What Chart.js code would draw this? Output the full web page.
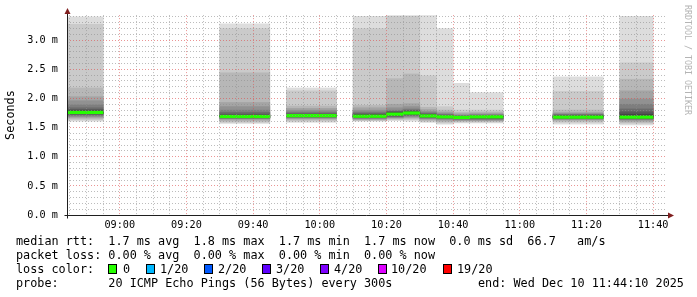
<!DOCTYPE html>
<html>
<head>
<meta charset="utf-8">
<script src="https://cdn.jsdelivr.net/npm/chart.js@4.4.1/dist/chart.umd.min.js"></script>
<style>
  html, body { margin: 0; padding: 0; background: #fff; }
  #wrap { position: relative; width: 697px; height: 297px; overflow: hidden; background: #fff; }
  #chart { position: absolute; left: 0; top: 0; }
  .legend { position: absolute; font: 11.8px "DejaVu Sans Mono", monospace; color: #000; white-space: pre; line-height: 14px; }
  .box { position: absolute; width: 7px; height: 8px; border: 1px solid #000; }
  .mark { position: absolute; top: 5px; left: 683px; font: 8.3px "DejaVu Sans Mono", monospace; color: #b4b4b4; writing-mode: vertical-rl; line-height: 9px; }
</style>
</head>
<body>
<div id="wrap">
  <canvas id="chart" width="697" height="297"></canvas>
  <div class="mark">RRDTOOL / TOBI OETIKER</div>
  <div class="legend" style="left:16px;top:234px">median rtt:  1.7 ms avg  1.8 ms max  1.7 ms min  1.7 ms now  0.0 ms sd  66.7   am/s</div>
  <div class="legend" style="left:16px;top:248px">packet loss: 0.00 % avg  0.00 % max  0.00 % min  0.00 % now</div>
  <div class="legend" style="left:16px;top:262px">loss color:</div>
  <div id="lossRow"></div>
  <div class="legend" style="left:16px;top:276px">probe:       20 ICMP Echo Pings (56 Bytes) every 300s</div>
  <div class="legend" style="left:478px;top:276px">end: Wed Dec 10 11:44:10 2025</div>
</div>
<script>
/* ---- data ---- */
// start of each 5-minute bin that has data
const binStarts = ['08:40','08:45','08:50','09:30','09:35','09:40','09:50','09:55','10:00',
                   '10:10','10:15','10:20','10:25','10:30','10:35','10:40','10:45','10:50',
                   '11:10','11:15','11:20','11:30','11:35'];

// median rtt per bin (ms)
const medianMs = [1.76, 1.76, 1.76, 1.69, 1.69, 1.69, 1.705, 1.705, 1.705,
                  1.695, 1.695, 1.73, 1.75, 1.70, 1.685, 1.675, 1.685, 1.685,
                  1.68, 1.68, 1.68, 1.68, 1.68];

// 20 sorted ping rtts per bin (ms)
const pingsA  = [1.61,1.63,1.65,1.67,1.69,1.70,1.72,1.73,1.74,1.75,1.77,1.79,1.81,1.84,1.89,1.96,2.03,2.18,3.27,3.40];
const pingsB  = [1.57,1.59,1.61,1.63,1.65,1.66,1.665,1.67,1.675,1.68,1.70,1.71,1.73,1.76,1.80,1.86,1.93,2.44,3.20,3.28];
const pingsC  = [1.59,1.61,1.63,1.65,1.66,1.67,1.68,1.69,1.695,1.70,1.71,1.72,1.73,1.75,1.77,1.80,1.83,1.87,2.13,2.18];
const pingsD  = [1.61,1.62,1.63,1.64,1.65,1.66,1.67,1.68,1.685,1.69,1.70,1.72,1.73,1.75,1.77,1.80,1.84,1.88,3.20,3.41];
const pings1020 = [1.62,1.635,1.65,1.66,1.67,1.68,1.69,1.70,1.71,1.72,1.74,1.755,1.77,1.78,1.80,1.84,1.90,2.34,3.41,3.42];
const pings1025 = [1.61,1.635,1.655,1.67,1.685,1.70,1.71,1.725,1.735,1.745,1.76,1.77,1.785,1.80,1.82,1.86,1.91,2.42,3.41,3.42];
const pings1030 = [1.59,1.605,1.62,1.64,1.65,1.66,1.67,1.68,1.69,1.695,1.71,1.72,1.73,1.74,1.76,1.78,1.81,1.85,2.39,3.42];
const pings1035 = [1.56,1.58,1.60,1.62,1.64,1.65,1.66,1.67,1.675,1.68,1.69,1.70,1.71,1.72,1.73,1.75,1.77,1.80,1.86,3.20];
const pings1040 = [1.58,1.595,1.61,1.62,1.63,1.64,1.65,1.66,1.665,1.67,1.68,1.685,1.69,1.70,1.71,1.72,1.74,1.76,1.80,2.26];
const pingsE  = [1.58,1.595,1.61,1.62,1.63,1.64,1.65,1.66,1.67,1.675,1.685,1.69,1.70,1.71,1.72,1.73,1.75,1.77,1.80,2.10];
const pingsF  = [1.56,1.59,1.61,1.63,1.64,1.65,1.66,1.665,1.67,1.675,1.69,1.70,1.71,1.72,1.73,1.74,1.76,1.80,2.12,2.37];
const pingsG  = [1.545,1.57,1.59,1.61,1.63,1.64,1.65,1.66,1.665,1.67,1.70,1.73,1.77,1.82,1.90,1.99,2.13,2.33,2.61,3.41];

const pingsMs = [pingsA, pingsA, pingsA, pingsB, pingsB, pingsB, pingsC, pingsC, pingsC,
                 pingsD, pingsD, pings1020, pings1025, pings1030, pings1035, pings1040, pingsE, pingsE,
                 pingsF, pingsF, pingsF, pingsG, pingsG];

const lossLabels = ['0', '1/20', '2/20', '3/20', '4/20', '10/20', '19/20'];
const lossColors = ['#26ff00', '#00b8ff', '#0059ff', '#5e00ff', '#7e00ff', '#dd00ff', '#ff0000'];

const startMin = 8 * 60 + 44 + 10 / 60;   // 08:44:10
const endMin   = 11 * 60 + 44 + 10 / 60;  // 11:44:10
const yMax     = 3.43;

/* ---- helpers ---- */
const toMin = s => { const [h, m] = s.split(':').map(Number); return h * 60 + m; };
const hhmm = v => String(Math.floor(v / 60)).padStart(2, '0') + ':' + String(v % 60).padStart(2, '0');
const grayOf = i => { const g = 50 + Math.round(190 / 10 * (10 - i)); return `rgb(${g},${g},${g})`; };
const isHalf = v => Math.abs(v * 2 - Math.round(v * 2)) < 1e-6;

/* ---- legend row ---- */
const boxX   = [108, 146, 204, 262, 320, 378, 443];
const labelX = [123, 160, 218, 276, 334, 391, 457];
const row = document.getElementById('lossRow');
lossLabels.forEach((lab, i) => {
  const b = document.createElement('div');
  b.className = 'box';
  b.style.left = boxX[i] + 'px'; b.style.top = '264px'; b.style.background = lossColors[i];
  row.appendChild(b);
  const t = document.createElement('div');
  t.className = 'legend';
  t.style.left = labelX[i] + 'px'; t.style.top = '262px';
  t.textContent = lab;
  row.appendChild(t);
});

/* ---- datasets: smoke bands ---- */
const mids = binStarts.map(s => toMin(s) + 2.5);
const datasets = [];
for (let i = 1; i <= 10; i++) {
  datasets.push({
    data: mids.map((x, k) => ({ x, y: [pingsMs[k][i - 1], pingsMs[k][20 - i]] })),
    backgroundColor: grayOf(i),
    order: 20 - i,
  });
}
// median band
const medHalf = 0.022;
datasets.push({
  data: mids.map((x, k) => ({ x, y: [medianMs[k] - medHalf, medianMs[k] + medHalf] })),
  backgroundColor: lossColors[0],
  order: 0,
});

const axesPlugin = {
  id: 'rrdAxes',
  afterDraw(chart) {
    const { ctx, chartArea: a } = chart;
    const L = Math.round(a.left) + 0.5, B = Math.round(a.bottom) + 0.5;
    ctx.save();
    ctx.strokeStyle = '#1f1f1f';
    ctx.lineWidth = 1;
    ctx.beginPath();
    ctx.moveTo(L, B + 3); ctx.lineTo(L, a.top - 4);
    ctx.moveTo(L - 3, B); ctx.lineTo(a.right + 2, B);
    ctx.stroke();
    ctx.fillStyle = '#801f1f';
    ctx.beginPath();
    ctx.moveTo(L, a.top - 7); ctx.lineTo(L - 3, a.top - 1); ctx.lineTo(L + 3, a.top - 1);
    ctx.closePath(); ctx.fill();
    ctx.beginPath();
    ctx.moveTo(a.right + 7, B); ctx.lineTo(a.right + 1, B - 3); ctx.lineTo(a.right + 1, B + 3);
    ctx.closePath(); ctx.fill();
    ctx.restore();
  }
};

const tickFont = { family: 'DejaVu Sans Mono', size: 10.2 };
const minorGrid = 'rgba(143,143,143,0.6)';
const majorGrid = 'rgba(222,79,79,0.6)';

new Chart(document.getElementById('chart'), {
  type: 'bar',
  data: { datasets },
  plugins: [axesPlugin],
  options: {
    responsive: false,
    animation: false,
    devicePixelRatio: 1,
    layout: { padding: { top: 14, right: 30, left: 0, bottom: 0 } },
    datasets: { bar: { grouped: false, barPercentage: 1, categoryPercentage: 1, borderWidth: 0 } },
    plugins: { legend: { display: false }, tooltip: { enabled: false } },
    scales: {
      x: {
        type: 'linear',
        min: startMin,
        max: endMin,
        offset: false,
        afterFit: s => { s.height = 82; },
        afterBuildTicks: s => {
          const t = [];
          for (let v = Math.ceil(startMin / 5) * 5; v <= endMin; v += 5) t.push({ value: v });
          s.ticks = t;
        },
        ticks: {
          autoSkip: false, maxRotation: 0, padding: 4, color: '#000', font: tickFont,
          callback: v => (v % 20 === 0 ? hhmm(v) : ''),
        },
        grid: {
          offset: false, drawTicks: false, z: 1, lineWidth: 1,
          color: c => (c.tick && c.tick.value % 20 === 0 ? majorGrid : minorGrid),
        },
        border: { display: false, dash: [1, 2] },
      },
      y: {
        min: 0,
        max: yMax,
        afterFit: s => { s.width = 67; },
        afterBuildTicks: s => {
          const t = [];
          for (let k = 0; k / 10 <= yMax; k++) t.push({ value: k / 10 });
          s.ticks = t;
        },
        ticks: {
          autoSkip: false, padding: 9, color: '#000', font: tickFont,
          callback: v => (isHalf(v) ? v.toFixed(1) + ' m' : ''),
        },
        grid: {
          drawTicks: false, z: 1, lineWidth: 1,
          color: c => (c.tick && isHalf(c.tick.value) ? majorGrid : minorGrid),
        },
        border: { display: false, dash: [1, 2] },
        title: {
          display: true, text: 'Seconds', color: '#000',
          font: { family: 'DejaVu Sans Mono', size: 11.8 },
          padding: { top: 4, bottom: 0 },
        },
      },
    },
  },
});
</script>
</body>
</html>
